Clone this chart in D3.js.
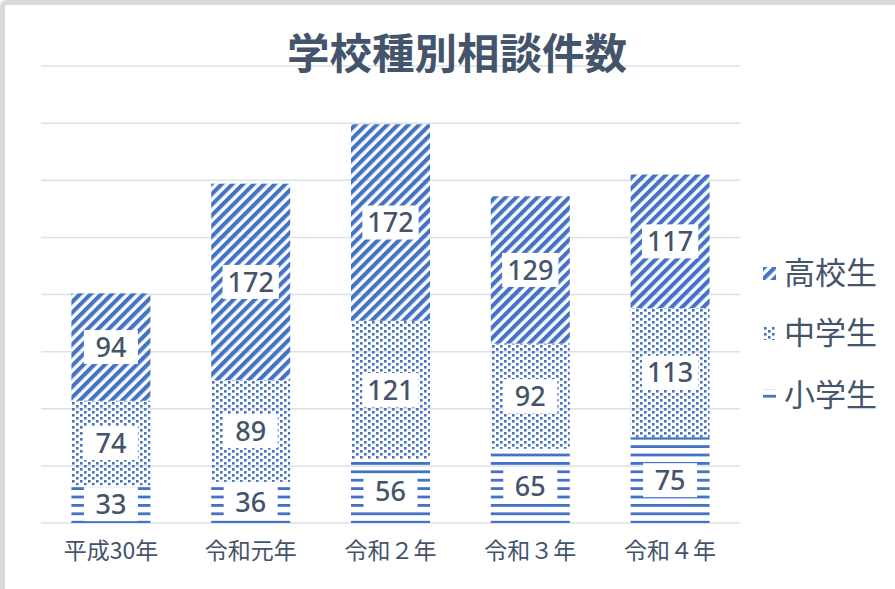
<!DOCTYPE html>
<html><head><meta charset="utf-8">
<script src="https://cdn.jsdelivr.net/npm/d3@7/dist/d3.min.js"></script>
<style>body{margin:0;background:#fff}svg{display:block}</style>
</head><body><div id="chart"></div>
<script>
const categories = ["平成30年", "令和元年", "令和２年", "令和３年", "令和４年"];
const seriesNames = ["小学生", "中学生", "高校生"];
const elementary = [33, 36, 56, 65, 75];
const juniorHigh = [74, 89, 121, 92, 113];
const highSchool = [94, 172, 172, 129, 117];
const yTicks = [0, 50, 100, 150, 200, 250, 300, 350, 400];

const W = 895, H = 589;
const svg = d3.select("#chart").append("svg").attr("width", W).attr("height", H);
const defs = svg.append("defs");
const blue = "#4472c4", txt = "#44546a";

// patterns
const pH = defs.append("pattern").attr("id", "pH").attr("patternUnits", "userSpaceOnUse")
  .attr("width", 8).attr("height", 8.4);
pH.append("rect").attr("x", 0).attr("y", 0).attr("width", 8).attr("height", 2.8).attr("fill", blue);
const pD = defs.append("pattern").attr("id", "pD").attr("patternUnits", "userSpaceOnUse")
  .attr("width", 8).attr("height", 6);
pD.append("rect").attr("x", 0).attr("y", 0).attr("width", 2.6).attr("height", 2.6).attr("fill", blue);
pD.append("rect").attr("x", 4).attr("y", 3).attr("width", 2.6).attr("height", 2.6).attr("fill", blue);
const pS = defs.append("pattern").attr("id", "pS").attr("patternUnits", "userSpaceOnUse")
  .attr("width", 7.5).attr("height", 7.5).attr("patternTransform", "rotate(45)");
pS.append("rect").attr("x", 0).attr("y", 0).attr("width", 4.1).attr("height", 7.5).attr("fill", blue);
const fills = ["url(#pH)", "url(#pD)", "url(#pS)"];

// border
svg.append("rect").attr("x", 2.5).attr("y", 2.5).attr("width", W + 20).attr("height", H + 20)
  .attr("rx", 4).attr("fill", "none").attr("stroke", "#d9d9d9").attr("stroke-width", 5);

const margin = {left: 41, right: 155, top: 66, bottom: 66};
const x = d3.scaleBand().domain(categories).range([margin.left, W - margin.right]).paddingInner(0.435).paddingOuter(0.2175);
const y = d3.scaleLinear().domain([0, 400]).range([H - margin.bottom, margin.top]);

// gridlines
svg.append("g").selectAll("line").data(yTicks).join("line")
  .attr("x1", margin.left).attr("x2", W - margin.right)
  .attr("y1", d => y(d)).attr("y2", d => y(d))
  .attr("stroke", "#dde1e6").attr("stroke-width", 1.5);

// title
svg.append("text").attr("x", 457).attr("y", 69).attr("text-anchor", "middle")
  .attr("font-family", "'Noto Sans CJK JP'").attr("font-weight", 700).attr("font-size", 42.5)
  .attr("fill", txt).text("学校種別相談件数");

const table = categories.map((c, i) => ({cat: c, "小学生": elementary[i], "中学生": juniorHigh[i], "高校生": highSchool[i]}));
const stacked = d3.stack().keys(seriesNames)(table);

const gBars = svg.append("g");
stacked.forEach((layer, si) => {
  gBars.append("g").selectAll("rect").data(layer).join("rect")
    .attr("x", d => x(d.data.cat)).attr("width", x.bandwidth())
    .attr("y", d => y(d[1])).attr("height", d => y(d[0]) - y(d[1]))
    .attr("fill", fills[si]);
});

// labels
const gLab = svg.append("g");
stacked.forEach((layer, si) => {
  layer.forEach(d => {
    const cx = x(d.data.cat) + x.bandwidth() / 2;
    const cy = (y(d[0]) + y(d[1])) / 2;
    const v = d[1] - d[0];
    const t = gLab.append("text").attr("x", cx).attr("y", cy).attr("dy", "0.36em")
      .attr("text-anchor", "middle").attr("font-family", "'Noto Sans'").attr("font-weight", 500)
      .attr("font-size", 27).attr("fill", txt).text(v);
    const bw = Math.max(t.node().getComputedTextLength() + 10, 54);
    gLab.insert("rect", () => t.node()).attr("x", cx - bw / 2).attr("y", cy - 17).attr("width", bw).attr("height", 34).attr("fill", "#fff");
  });
});

// x axis labels
svg.append("g").attr("transform", `translate(0,${H - margin.bottom})`)
  .call(d3.axisBottom(x).tickSize(0).tickPadding(20))
  .call(g => g.select(".domain").remove())
  .call(g => g.selectAll("text").attr("font-family", "'Noto Sans CJK JP'").attr("font-size", 23)
    .attr("font-weight", 400).attr("fill", txt));

// legend
const legY = [273, 333, 395];
const legOrder = [2, 1, 0];
const gLeg = svg.append("g");
legOrder.forEach((si, k) => {
  gLeg.append("rect").attr("x", 763).attr("y", legY[k] - 6).attr("width", 13).attr("height", 13).attr("fill", fills[si]);
  gLeg.append("text").attr("x", 784).attr("y", legY[k]).attr("dy", "0.36em")
    .attr("font-family", "'Noto Sans CJK JP'").attr("font-size", 31).attr("fill", txt).text(seriesNames[si]);
});
</script></body></html>
